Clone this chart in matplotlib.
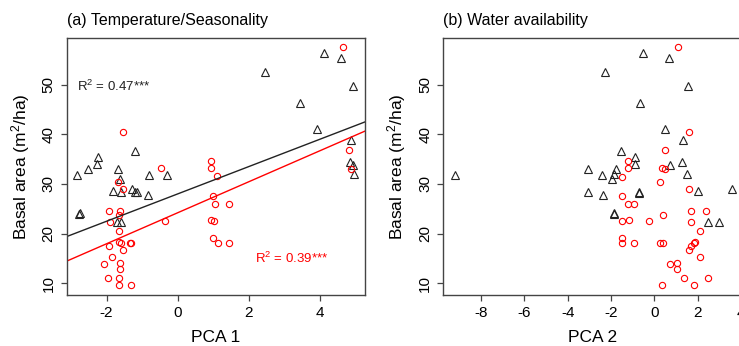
import matplotlib
matplotlib.use('Agg')
import matplotlib.pyplot as plt

plt.rcParams['font.family'] = ['Liberation Sans', 'DejaVu Sans']
plt.rcParams['mathtext.fontset'] = 'custom'
plt.rcParams['mathtext.rm'] = 'Liberation Sans'
plt.rcParams['mathtext.it'] = 'Liberation Sans:italic'
plt.rcParams['axes.unicode_minus'] = False

# (a) PCA 1 - black triangles
pca1_tri_x = [-2.84, -2.75, -2.77, -2.52, -2.23, -2.26, -1.69, -1.62, -1.83, -1.60,
              -1.70, -1.59, -1.19, -1.29, -1.19, -1.14, -0.82, -0.85, -0.30, 2.46,
              3.44, 3.92, 4.12, 4.59, 4.93, 4.87, 4.85, 4.93, 4.96]
pca1_tri_y = [31.8, 24.2, 24.0, 33.1, 35.5, 34.1, 33.1, 30.9, 28.6, 28.4,
              22.4, 22.4, 36.6, 28.9, 28.3, 28.3, 31.8, 27.8, 31.8, 52.6,
              46.3, 41.0, 56.5, 55.4, 49.8, 38.8, 34.5, 33.8, 32.1]

# (a) PCA 1 - red circles
pca1_cir_x = [-1.54, -1.68, -1.55, -1.94, -1.90, -1.61, -1.66, -1.66, -1.66, -1.59,
              -1.93, -1.55, -1.33, -1.31, -1.85, -2.08, -1.61, -1.63, -1.95, -1.64,
              -1.64, -1.31, -0.47, -0.36, 0.94, 0.94, 1.09, 1.00, 1.05, 1.43,
              0.93, 1.02, 1.00, 1.13, 1.45, 4.65, 4.80, 4.87]
pca1_cir_y = [40.5, 30.4, 29.0, 24.6, 22.3, 24.6, 23.8, 20.5, 18.2, 18.1,
              17.4, 16.6, 18.1, 18.1, 15.3, 13.9, 14.1, 12.9, 11.1, 11.1,
              9.6, 9.6, 33.3, 22.5, 34.7, 33.3, 31.6, 27.5, 25.9, 25.9,
              22.7, 22.5, 19.0, 18.0, 18.0, 57.6, 36.8, 33.1]

# (b) PCA 2 - black triangles
pca2_tri_x = [-9.20, -3.05, -3.05, -2.40, -2.38, -2.28, -1.86, -1.97, -1.86, -1.87,
              -1.55, -1.78, -0.89, -0.89, -0.69, -0.70, -0.54, -0.66, 0.49, 0.69,
              0.72, 1.31, 1.29, 1.52, 1.54, 2.00, 2.46, 3.00, 3.57]
pca2_tri_y = [31.8, 33.1, 28.3, 31.8, 27.8, 52.6, 32.1, 30.9, 24.1, 24.0,
              36.6, 33.1, 35.5, 34.1, 28.3, 28.2, 56.5, 46.3, 41.0, 55.4,
              33.8, 38.8, 34.5, 32.1, 49.8, 28.6, 22.4, 22.4, 28.9]

# (b) PCA 2 - red circles
pca2_cir_x = [1.11, 1.62, 0.49, -1.20, -1.20, 0.37, 0.49, -1.49, 0.26, 1.62,
              -1.48, -1.20, -0.92, -1.48, -1.17, -0.23, 0.40, 1.72, 2.39, 1.69,
              2.11, -1.48, -1.48, -0.92, 0.26, 0.42, 1.83, 1.86, 1.69, 1.60,
              2.11, 1.05, 0.72, 1.05, 1.36, 2.48, 0.37, 1.83]
pca2_cir_y = [57.6, 40.5, 36.8, 34.7, 33.3, 33.3, 33.0, 31.5, 30.3, 29.0,
              27.5, 25.9, 25.9, 22.5, 22.7, 22.5, 23.8, 24.6, 24.6, 22.3,
              20.5, 19.0, 18.0, 18.0, 18.1, 18.1, 18.1, 18.3, 17.4, 16.6,
              15.3, 14.1, 13.9, 12.9, 11.1, 11.1, 9.6, 9.6]

# fitted lines (intercept, slope)
fit_black = (28.0, 2.76)
fit_red = (24.2, 3.13)

fig = plt.figure(figsize=(7.39, 3.46), dpi=100)
ax1 = fig.add_axes([0.0903, 0.1474, 0.4041, 0.7436])
ax2 = fig.add_axes([0.5999, 0.1474, 0.4041, 0.7436])

for ax in (ax1, ax2):
    for sp in ax.spines.values():
        sp.set_color('#444444')
        sp.set_linewidth(1.0)
    ax.set_ylim(7.6, 59.5)
    ax.set_yticks([10, 20, 30, 40, 50])
    ax.tick_params(axis='both', labelsize=11, length=4, width=0.9,
                   color='#444444', pad=4)
    ax.tick_params(axis='y', labelrotation=90)
    for lab in ax.get_yticklabels():
        lab.set_verticalalignment('center')
    ax.set_ylabel('Basal area (m$^2$/ha)', fontsize=12.5, labelpad=7)

ax1.plot(pca1_tri_x, pca1_tri_y, linestyle='none', marker='^', markersize=5.5,
         markerfacecolor='none', markeredgecolor='#222222', markeredgewidth=0.8)
ax1.plot(pca1_cir_x, pca1_cir_y, linestyle='none', marker='o', markersize=4.5,
         markerfacecolor='none', markeredgecolor='red', markeredgewidth=0.8)
ax1.axline((0, fit_black[0]), slope=fit_black[1], color='#222222', linewidth=1.0)
ax1.axline((0, fit_red[0]), slope=fit_red[1], color='red', linewidth=1.0)
ax1.set_xlim(-3.12, 5.27)
ax1.set_xticks([-2, 0, 2, 4])
ax1.set_xlabel('PCA 1', fontsize=12.5, labelpad=7)
ax1.set_title('(a) Temperature/Seasonality', loc='left', fontsize=11.5, pad=9)
ax1.text(-2.83, 49.7, 'R$^2$ = 0.47***', fontsize=9.5, color='#222222',
         ha='left', va='center')
ax1.text(2.18, 14.9, 'R$^2$ = 0.39***', fontsize=9.5, color='red',
         ha='left', va='center')

ax2.plot(pca2_tri_x, pca2_tri_y, linestyle='none', marker='^', markersize=5.5,
         markerfacecolor='none', markeredgecolor='#222222', markeredgewidth=0.8)
ax2.plot(pca2_cir_x, pca2_cir_y, linestyle='none', marker='o', markersize=4.5,
         markerfacecolor='none', markeredgecolor='red', markeredgewidth=0.8)
ax2.set_xlim(-9.74, 4.05)
ax2.set_xticks([-8, -6, -4, -2, 0, 2, 4])
ax2.set_xlabel('PCA 2', fontsize=12.5, labelpad=7)
ax2.set_title('(b) Water availability', loc='left', fontsize=11.5, pad=9)

fig.savefig('out.png', dpi=100)
